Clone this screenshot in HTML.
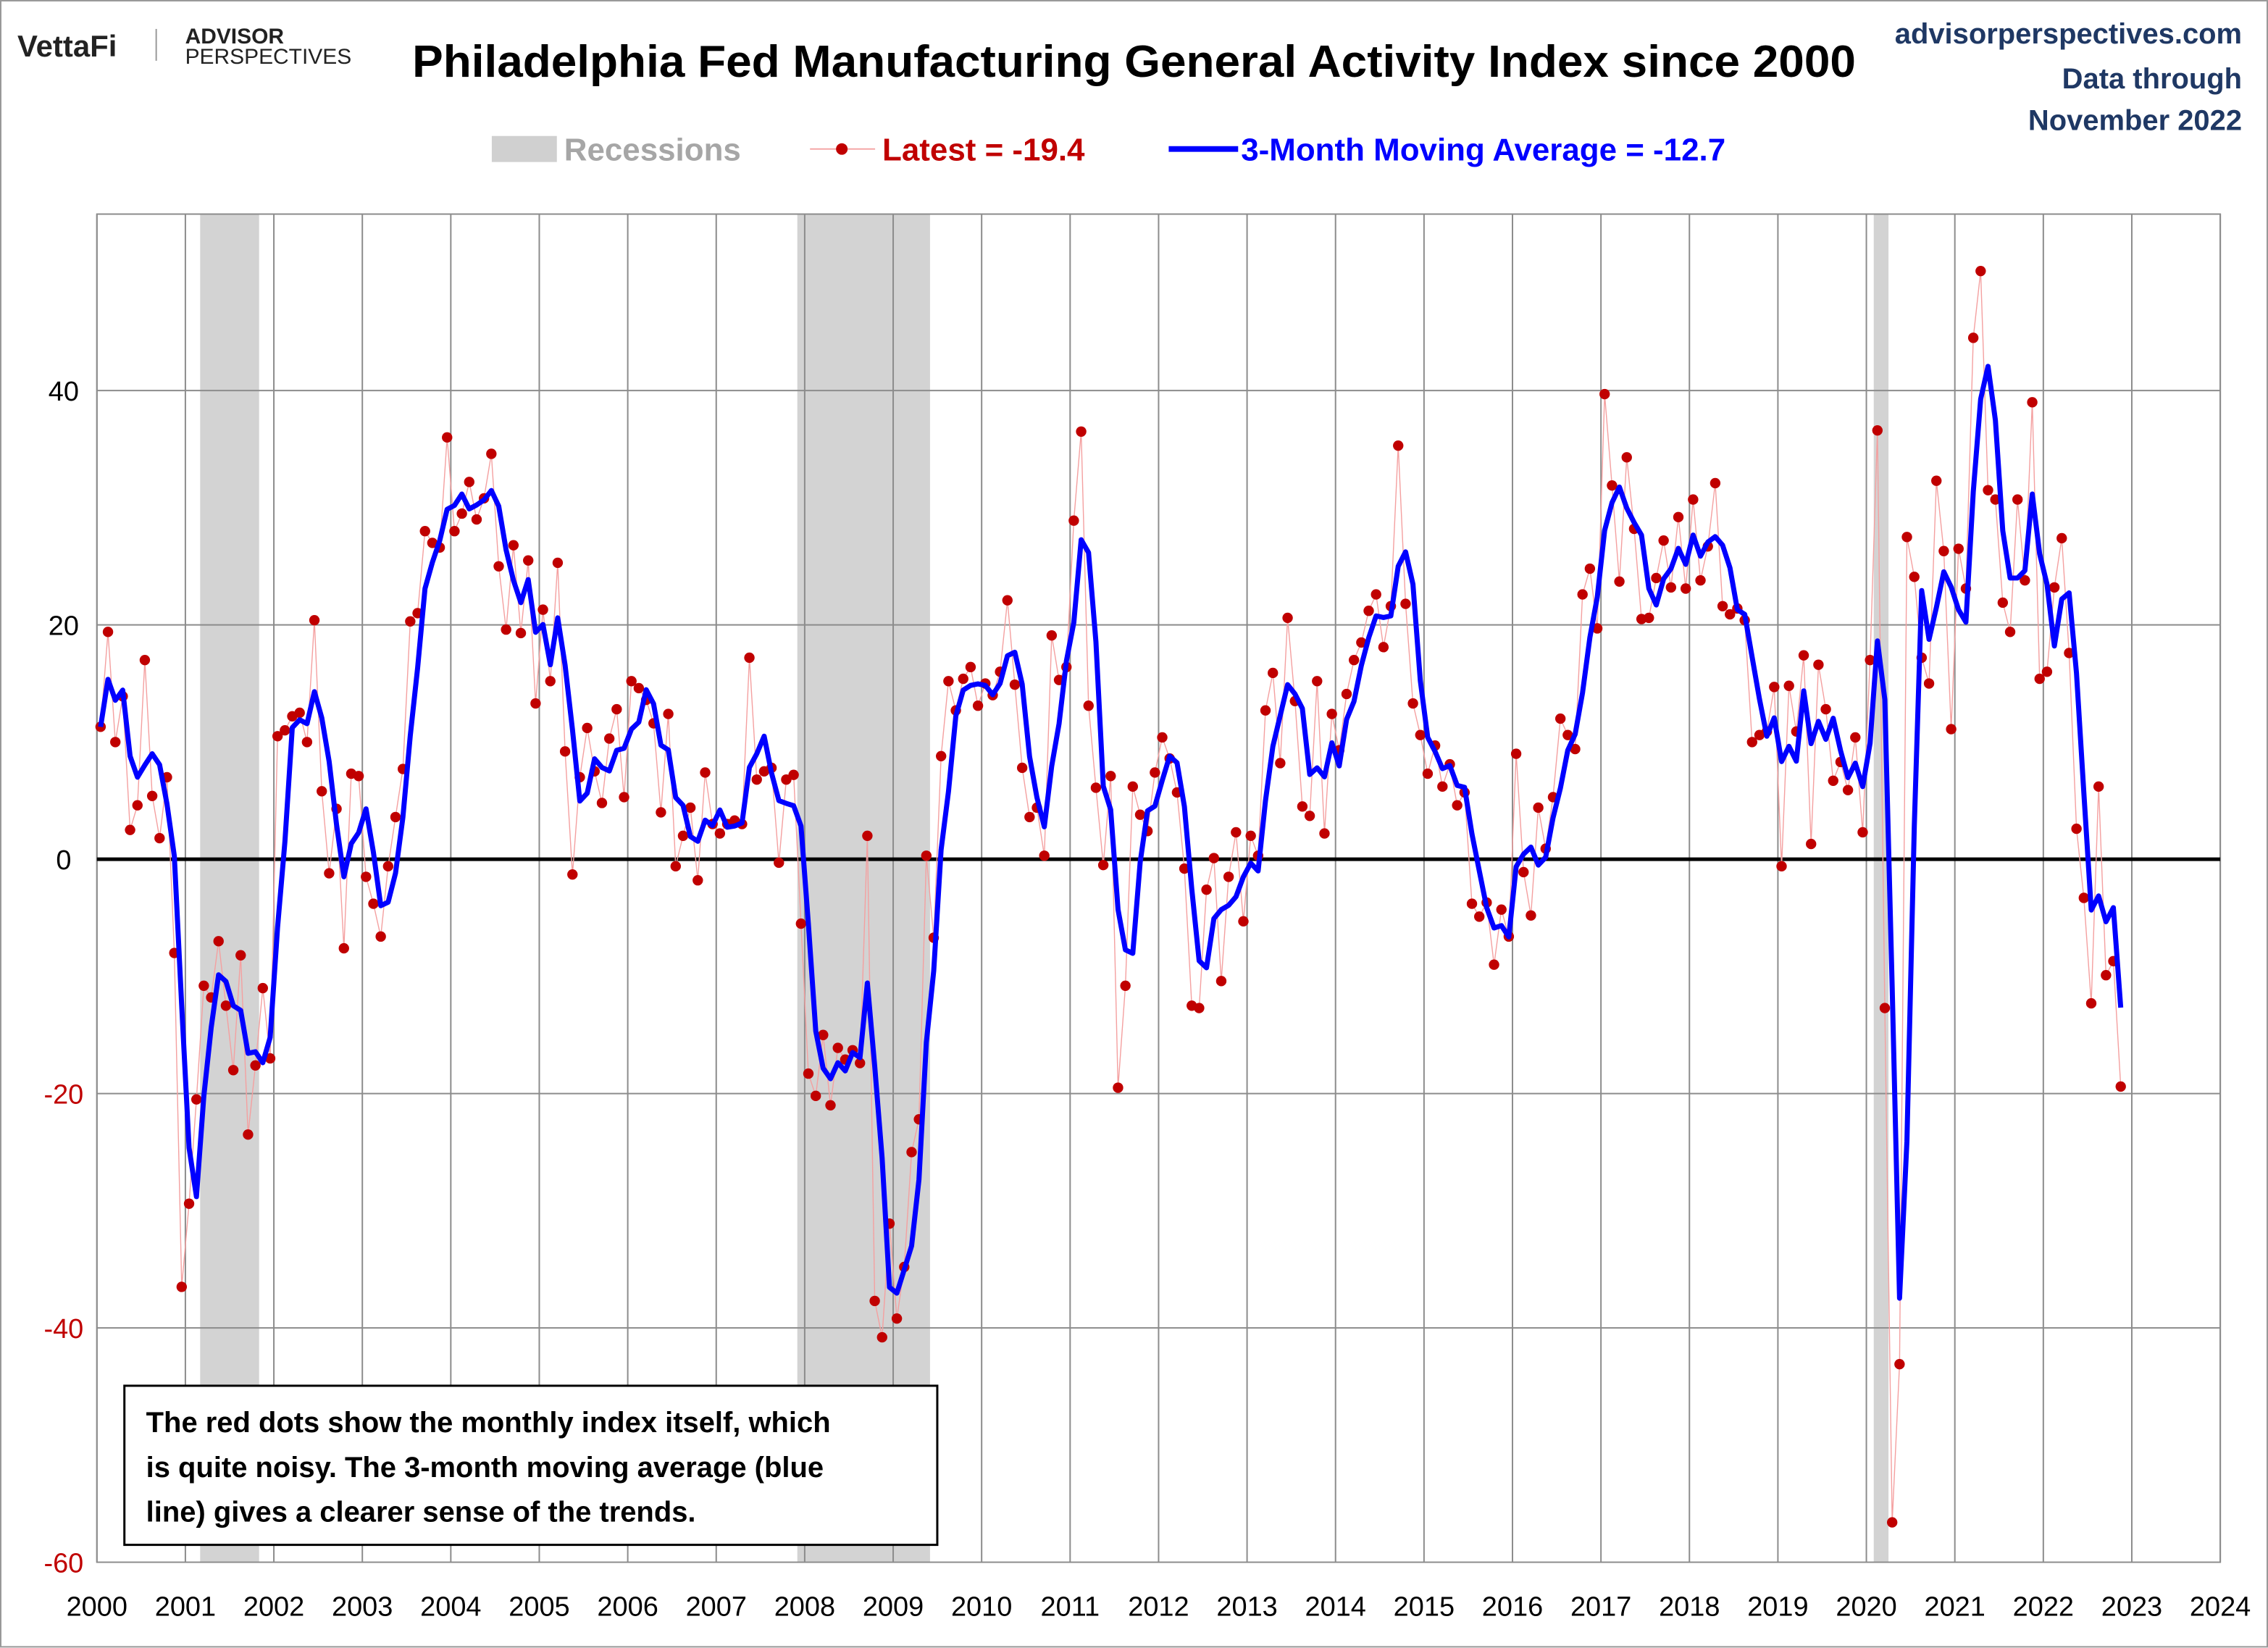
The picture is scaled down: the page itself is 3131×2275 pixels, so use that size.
<!DOCTYPE html>
<html><head><meta charset="utf-8"><style>
html,body{margin:0;padding:0;background:#fff;}
svg{display:block;font-family:"Liberation Sans",sans-serif;}
</style></head><body>
<svg id="chart" width="3131" height="2275" viewBox="0 0 1568 1139.3" xmlns="http://www.w3.org/2000/svg">
<rect x="0.5" y="0.5" width="1567" height="1138" fill="#fff" stroke="#999" stroke-width="1"/>
<g>
<text x="12" y="39" font-size="21" font-weight="bold" fill="#222">VettaFi</text>
<line x1="108" y1="20" x2="108" y2="42" stroke="#999"/>
<text x="128" y="30" font-size="15" font-weight="bold" fill="#222">ADVISOR</text>
<text x="128" y="44" font-size="15" fill="#222">PERSPECTIVES</text>
</g>
<text x="784" y="53" font-size="31" font-weight="bold" fill="#000" text-anchor="middle" textLength="998" lengthAdjust="spacingAndGlyphs">Philadelphia Fed Manufacturing General Activity Index since 2000</text>
<g font-size="20" font-weight="bold" fill="#1f3864" text-anchor="end">
<text x="1550" y="30">advisorperspectives.com</text>
<text x="1550" y="61">Data through</text>
<text x="1550" y="90">November 2022</text>
</g>
<g font-size="22" font-weight="bold">
<rect x="340" y="94" width="45" height="18" fill="#d0d0d0"/>
<text x="390" y="111" fill="#a6a6a6">Recessions</text>
<line x1="560" y1="103" x2="605" y2="103" stroke="#f4a0a0" stroke-width="1"/>
<circle cx="582" cy="103" r="4" fill="#c00000"/>
<text x="610" y="111" fill="#c00000">Latest = -19.4</text>
<line x1="808" y1="103" x2="856" y2="103" stroke="#0000ff" stroke-width="4"/>
<text x="858" y="111" fill="#0000ff">3-Month Moving Average = -12.7</text>
</g>
<g id="plot"></g>
<g>
<rect x="86" y="958" width="562" height="110" fill="#fff" stroke="#000" stroke-width="1.5"/>
<text font-size="20" font-weight="bold" fill="#000">
<tspan x="101" y="990">The red dots show the monthly  index itself, which</tspan>
<tspan x="101" y="1021">is quite noisy. The 3-month moving average (blue</tspan>
<tspan x="101" y="1052">line) gives a clearer sense of the trends.</tspan>
</text>
</g>
</svg>
<script>
const years=[2000,2001,2002,2003,2004,2005,2006,2007,2008,2009,2010,2011,2012,2013,2014,2015,2016,2017,2018,2019,2020,2021,2022,2023,2024];
const yTicks=[-60,-40,-20,0,20,40];
const recessions=[[2001+2/12,2001+10/12],[2007+11/12,2009+5/12],[2020+1/12,2020+3/12]];
const monthly=[
11.3,19.4,10,13.9,2.5,4.6,17,5.4,1.8,7,-8,-36.5,
-29.4,-20.5,-10.8,-11.8,-7,-12.5,-18,-8.2,-23.5,-17.6,-11,-17,
10.5,11,12.2,12.5,10,20.4,5.8,-1.2,4.3,-7.6,7.3,7.1,
-1.5,-3.8,-6.6,-0.6,3.6,7.7,20.3,21,28,27,26.6,36,
28,29.5,32.2,29,30.8,34.6,25,19.6,26.8,19.3,25.5,13.3,
21.3,15.2,25.3,9.2,-1.3,7,11.2,7.5,4.8,10.3,12.8,5.3,
15.2,14.6,13.6,11.6,4,12.4,-0.6,2,4.4,-1.8,7.4,3,
2.2,3,3.3,3,17.2,6.8,7.5,7.8,-0.3,6.8,7.2,-5.5,
-18.3,-20.2,-15,-21,-16.1,-17.1,-16.3,-17.4,2,-37.7,-40.8,-31.1,
-39.2,-34.8,-25,-22.2,0.3,-6.7,8.8,15.2,12.7,15.4,16.4,13.1,
15,14,16,22.1,14.9,7.8,3.6,4.4,0.3,19.1,15.3,16.4,
28.9,36.5,13.1,6.1,-0.5,7.1,-19.5,-10.8,6.2,3.8,2.4,7.4,
10.4,8.6,5.7,-0.8,-12.5,-12.7,-2.6,0.1,-10.4,-1.5,2.3,-5.3,
2,0.3,12.7,15.9,8.2,20.6,13.5,4.5,3.7,15.2,2.2,12.4,
9.3,14.1,17,18.5,21.2,22.6,18.1,21.6,35.3,21.8,13.3,10.6,
7.3,9.7,6.2,8.1,4.6,5.7,-3.8,-4.9,-3.7,-9,-4.3,-6.6,
9,-1.1,-4.8,4.4,0.9,5.3,12,10.6,9.4,22.6,24.8,19.7,
39.7,31.9,23.7,34.3,28.2,20.5,20.6,24,27.2,23.2,29.2,23.1,
30.7,23.8,26.7,32.1,21.6,20.9,21.4,20.4,10,10.6,10.9,14.7,
-0.6,14.8,10.9,17.4,1.3,16.6,12.8,6.7,8.3,5.9,10.4,2.3,
17,36.6,-12.7,-56.6,-43.1,27.5,24.1,17.2,15,32.3,26.3,11.1,
26.5,23.1,44.5,50.2,31.5,30.7,21.9,19.4,30.7,23.8,39,15.4,
16,23.2,27.4,17.6,2.6,-3.3,-12.3,6.2,-9.9,-8.7,-19.4];

const NS='http://www.w3.org/2000/svg';
const X0=67,X1=1535,Y0=148,Y1=1080;
const xs=t=>X0+(t-2000)/24*(X1-X0);
const ys=v=>594-v*8.1;
const g=document.getElementById('plot');
function mk(tag,at){const e=document.createElementNS(NS,tag);for(const k in at)e.setAttribute(k,at[k]);g.appendChild(e);return e;}

recessions.forEach(r=>{
  const e=mk('rect',{x:xs(r[0]),y:Y0,width:xs(r[1])-xs(r[0]),height:Y1-Y0,fill:'#d3d3d3'});
  
  
});
years.forEach(yr=>{
  const e=mk('line',{x1:xs(yr),x2:xs(yr),y1:Y0,y2:Y1,stroke:'#8c8c8c','stroke-width':1});
  
  
  const t=mk('text',{x:xs(yr),y:1117,'font-size':19,'text-anchor':'middle',fill:'#000'});
  t.textContent=yr;
  
  
});
yTicks.forEach(v=>{
  if(v!==0&&v!==-60){
    const e=mk('line',{x1:X0,x2:X1,y1:ys(v),y2:ys(v),stroke:'#8c8c8c','stroke-width':1});
    
    
  }
  const t=mk('text',{x:44,y:ys(v)+7,'font-size':19,'text-anchor':'middle',fill:v<0?'#c00000':'#000'});
  t.textContent=v;
  
  
});
const fr=mk('rect',{x:X0,y:Y0,width:X1-X0,height:Y1-Y0,fill:'none',stroke:'#8c8c8c','stroke-width':1});


const zl=mk('line',{x1:X0,x2:X1,y1:ys(0),y2:ys(0),stroke:'#000','stroke-width':2.5});



const tx=i=>xs(2000+(i+0.5)/12);
const conn=mk('polyline',{points:monthly.map((v,i)=>tx(i)+','+ys(v)).join(' '),fill:'none',stroke:'#f4a0a0','stroke-width':0.7});


const ma=monthly.map((v,i)=>{const s=monthly.slice(Math.max(0,i-2),i+1);return s.reduce((a,b)=>a+b,0)/s.length;});
monthly.forEach((v,i)=>{
  const c=mk('circle',{cx:tx(i),cy:ys(v),r:3.6,fill:'#c00000'});
  
  
});
const mal=mk('polyline',{points:ma.map((v,i)=>tx(i)+','+ys(v)).join(' '),fill:'none',stroke:'#0000ff','stroke-width':3.5,'stroke-linejoin':'round'});


</script>
</body></html>
